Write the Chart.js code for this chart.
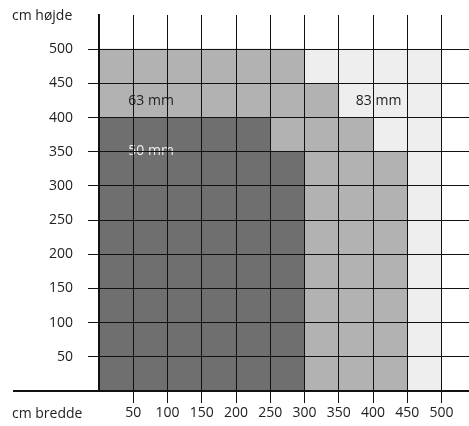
<!DOCTYPE html>
<html lang="da">
<head>
<meta charset="UTF-8">
<title>Glasstørrelser</title>
<script src="https://cdn.jsdelivr.net/npm/chart.js"></script>
<style>
    html, body { margin: 0; padding: 0; background: #fff; }
    #wrap { width: 469px; height: 426px; }
</style>
</head>
<body>
<div id="wrap"><canvas id="chart"></canvas></div>
<script>
// column centres (cm bredde), each column is 50 cm wide
const colCentres = [25, 75, 125, 175, 225, 275, 325, 375, 425, 475];
// top of each thickness zone (cm højde) per column
const top50 = [400, 400, 400, 400, 400, 350, 0, 0, 0, 0];
const top63 = [500, 500, 500, 500, 500, 500, 450, 400, 350, 0];
const top83 = [500, 500, 500, 500, 500, 500, 500, 500, 500, 500];

const zoneNames = ['50 mm', '63 mm', '83 mm'];
const zoneColours = ['#6f6f6f', '#b2b2b2', '#eeeeee'];
// where the zone names are written (data units)
const zoneLabels = [
    { text: '50 mm', x: 76, y: 351, color: '#eeeeee' },
    { text: '63 mm', x: 76, y: 424, color: '#222222' },
    { text: '83 mm', x: 408, y: 424, color: '#222222' }
];

const FONT = '"Open Sans", "Noto Sans", sans-serif';

function floating(bottoms, tops) {
    const out = [];
    colCentres.forEach((x, i) => {
        const lo = bottoms ? bottoms[i] : 0;
        if (tops[i] > lo) out.push({ x: x, y: [lo, tops[i]] });
    });
    return out;
}

const tops = [top50, top63, top83];
const datasets = tops.map((t, k) => ({
    label: zoneNames[k],
    data: floating(k === 0 ? null : tops[k - 1], t),
    backgroundColor: zoneColours[k],
    borderWidth: 0,
    barPercentage: 1.0,
    categoryPercentage: 1.0,
    grouped: false
}));

const extras = {
    id: 'extras',
    afterDatasetsDraw(chart) {
        const ctx = chart.ctx;
        const xs = chart.scales.x, ys = chart.scales.y;
        ctx.save();
        ctx.font = '14px ' + FONT;
        ctx.textAlign = 'center';
        ctx.textBaseline = 'middle';
        zoneLabels.forEach(l => {
            ctx.fillStyle = l.color;
            ctx.fillText(l.text, xs.getPixelForValue(l.x), ys.getPixelForValue(l.y));
        });
        ctx.restore();
    },
    afterDraw(chart) {
        const ctx = chart.ctx;
        const area = chart.chartArea;
        ctx.save();
        // x axis line continues to the left under the labels
        ctx.strokeStyle = '#111';
        ctx.lineWidth = 2;
        ctx.beginPath();
        ctx.moveTo(13, area.bottom);
        ctx.lineTo(area.left, area.bottom);
        ctx.stroke();
        ctx.fillStyle = '#222';
        ctx.font = '14px ' + FONT;
        ctx.textAlign = 'left';
        ctx.textBaseline = 'alphabetic';
        ctx.fillText('cm højde', 12, 20);
        ctx.fillText('cm bredde', 12, 418);
        ctx.restore();
    }
};

function tickLabel(v) {
    return (v === 0 || v > 500) ? null : String(v);
}

new Chart(document.getElementById('chart'), {
    type: 'bar',
    data: { datasets: datasets },
    options: {
        responsive: true,
        maintainAspectRatio: false,
        animation: false,
        layout: { padding: { top: 15, left: 0, right: 0, bottom: 0 } },
        plugins: {
            legend: { display: false },
            tooltip: { enabled: false }
        },
        scales: {
            x: {
                type: 'linear',
                min: 0,
                max: 540,
                offset: false,
                afterFit: s => { s.height = 35; s.paddingLeft = 0; s.paddingRight = 0; },
                grid: { color: '#111', lineWidth: 1, tickLength: 12, offset: false, z: 1 },
                border: { color: '#111', width: 2, z: 2 },
                ticks: {
                    stepSize: 50,
                    includeBounds: false,
                    padding: 2,
                    maxRotation: 0,
                    autoSkip: false,
                    color: '#222',
                    font: { family: FONT, size: 14 },
                    callback: tickLabel
                }
            },
            y: {
                min: 0,
                max: 550,
                afterFit: s => { s.width = 99; s.paddingTop = 0; s.paddingBottom = 0; },
                grid: { color: '#111', lineWidth: 1, tickLength: 11, z: 1 },
                border: { color: '#111', width: 2, z: 2 },
                ticks: {
                    stepSize: 50,
                    includeBounds: false,
                    padding: 15,
                    autoSkip: false,
                    color: '#222',
                    font: { family: FONT, size: 14 },
                    callback: tickLabel
                }
            }
        }
    },
    plugins: [extras]
});
</script>
</body>
</html>
